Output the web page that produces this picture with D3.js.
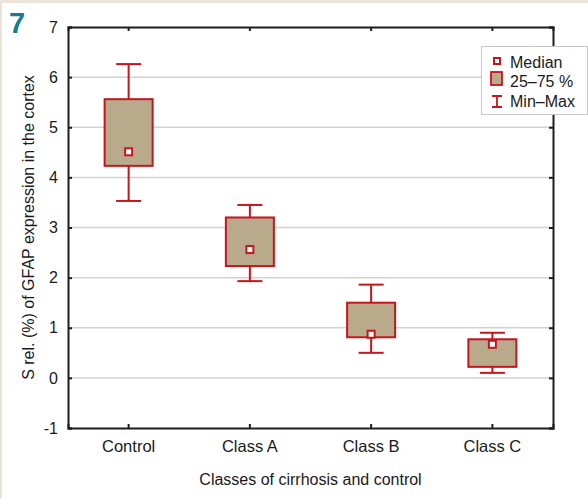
<!DOCTYPE html>
<html>
<head>
<meta charset="utf-8">
<script src="https://cdn.jsdelivr.net/npm/d3@7/dist/d3.min.js"></script>
<style>
  html, body { margin: 0; padding: 0; background: #ece4d9; }
  svg { display: block; }
  text { font-family: "Liberation Sans", Arial, sans-serif; fill: #1a1a1a; }
</style>
</head>
<body>
<div id="chart"></div>
<script>
// GFAP expression in the cortex by cirrhosis class
const categories = ["Control", "Class A", "Class B", "Class C"];
const minValues    = [3.53, 1.93, 0.50, 0.10];
const q1Values     = [4.23, 2.23, 0.81, 0.22];
const medianValues = [4.51, 2.56, 0.87, 0.67];
const q3Values     = [5.56, 3.20, 1.50, 0.77];
const maxValues    = [6.26, 3.45, 1.86, 0.90];
const yTicks = [-1, 0, 1, 2, 3, 4, 5, 6, 7];
const legendLabels = ["Median", "25\u201375 %", "Min\u2013Max"];

const W = 588, H = 499;
const margin = { left: 68, right: 35, top: 27, bottom: 71 };
const RED = "#c4161c", TAN = "#b9aa8c", AXIS = "#1e1e1e", GRID = "#d2d2d2";

const svg = d3.select("#chart").append("svg").attr("width", W).attr("height", H);

// white panel on the beige page
svg.append("rect").attr("x", 2).attr("y", 3).attr("width", W - 2).attr("height", H - 3).attr("fill", "#ffffff");

const x = d3.scaleBand().domain(categories).range([margin.left, W - margin.right]).padding(0);
const y = d3.scaleLinear().domain([-1, 7]).range([H - margin.bottom, margin.top]);

const rows = categories.map((c, i) => ({
  c, min: minValues[i], q1: q1Values[i], med: medianValues[i], q3: q3Values[i], max: maxValues[i]
}));

// horizontal grid
svg.append("g").selectAll("line").data(yTicks.filter(t => t > -1 && t < 7)).join("line")
  .attr("x1", margin.left).attr("x2", W - margin.right)
  .attr("y1", d => y(d)).attr("y2", d => y(d))
  .attr("stroke", GRID).attr("stroke-width", 1.5);

// axes with inward ticks on all four sides
const tickLen = 4;
svg.append("g").attr("transform", `translate(${margin.left},0)`)
  .call(d3.axisLeft(y).tickValues(yTicks).tickSize(-tickLen).tickPadding(10).tickFormat(d => String(d)))
  .call(g => g.selectAll("text").attr("font-size", 16).attr("font-family", "Liberation Sans, Arial, sans-serif").attr("fill", "#1a1a1a"));
svg.append("g").attr("transform", `translate(${W - margin.right},0)`)
  .call(d3.axisRight(y).tickValues(yTicks).tickSize(-tickLen).tickFormat(""));
svg.append("g").attr("transform", `translate(0,${H - margin.bottom})`)
  .call(d3.axisBottom(x).tickSize(-tickLen).tickPadding(12))
  .call(g => g.selectAll("text").attr("font-size", 16.5).attr("font-family", "Liberation Sans, Arial, sans-serif").attr("fill", "#1a1a1a"));
svg.append("g").attr("transform", `translate(0,${margin.top})`)
  .call(d3.axisTop(x).tickSize(-tickLen).tickFormat(""));
svg.selectAll(".domain").attr("stroke", AXIS).attr("stroke-width", 2);
svg.selectAll(".tick line").attr("stroke", AXIS).attr("stroke-width", 2);

// boxes
const boxW = 48, capW = 25, mk = 7;
const g = svg.append("g").selectAll("g").data(rows).join("g")
  .attr("transform", d => `translate(${x(d.c) + x.bandwidth() / 2},0)`);
g.append("line").attr("x1", 0).attr("x2", 0).attr("y1", d => y(d.max)).attr("y2", d => y(d.q3))
  .attr("stroke", RED).attr("stroke-width", 2);
g.append("line").attr("x1", 0).attr("x2", 0).attr("y1", d => y(d.q1)).attr("y2", d => y(d.min))
  .attr("stroke", RED).attr("stroke-width", 2);
g.append("line").attr("x1", -capW / 2).attr("x2", capW / 2).attr("y1", d => y(d.max)).attr("y2", d => y(d.max))
  .attr("stroke", RED).attr("stroke-width", 2);
g.append("line").attr("x1", -capW / 2).attr("x2", capW / 2).attr("y1", d => y(d.min)).attr("y2", d => y(d.min))
  .attr("stroke", RED).attr("stroke-width", 2);
g.append("rect").attr("x", -boxW / 2).attr("width", boxW)
  .attr("y", d => y(d.q3)).attr("height", d => y(d.q1) - y(d.q3))
  .attr("fill", TAN).attr("stroke", RED).attr("stroke-width", 2);
g.append("rect").attr("x", -mk / 2).attr("width", mk)
  .attr("y", d => y(d.med) - mk / 2).attr("height", mk)
  .attr("fill", "#fff").attr("stroke", RED).attr("stroke-width", 2);

// legend
const lg = svg.append("g").attr("transform", "translate(481,46)");
lg.append("rect").attr("x", 0.5).attr("y", 0.5).attr("width", 106).attr("height", 68)
  .attr("fill", "#fff").attr("stroke", "#c8c8c8").attr("stroke-width", 1);
const iconX = 16;
lg.append("rect").attr("x", iconX - 3).attr("y", 12).attr("width", 6).attr("height", 6)
  .attr("fill", "#fff").attr("stroke", RED).attr("stroke-width", 2);
lg.append("rect").attr("x", iconX - 6).attr("y", 26).attr("width", 11).attr("height", 13)
  .attr("fill", TAN).attr("stroke", RED).attr("stroke-width", 1.8);
lg.append("path").attr("d", `M${iconX - 5},50H${iconX + 5}M${iconX},50V61M${iconX - 5},61H${iconX + 5}`)
  .attr("stroke", RED).attr("stroke-width", 1.8).attr("fill", "none");
lg.selectAll("text.lab").data(legendLabels).join("text").attr("class", "lab")
  .attr("x", 29).attr("y", (d, i) => 21.5 + i * 19.8)
  .attr("font-size", 16).text(d => d);

// axis titles
svg.append("text").attr("x", (margin.left + W - margin.right) / 2).attr("y", 485)
  .attr("text-anchor", "middle").attr("font-size", 16).text("Classes of cirrhosis and control");
svg.append("text").attr("transform", `translate(34,${(margin.top + H - margin.bottom) / 2}) rotate(-90)`)
  .attr("text-anchor", "middle").attr("font-size", 16).text("S rel. (%) of GFAP expression in the cortex");

// panel number
svg.append("text").attr("x", 9).attr("y", 33).attr("font-size", 29).attr("font-weight", "bold")
  .style("fill", "#177c98").text("7");
</script>
</body>
</html>
